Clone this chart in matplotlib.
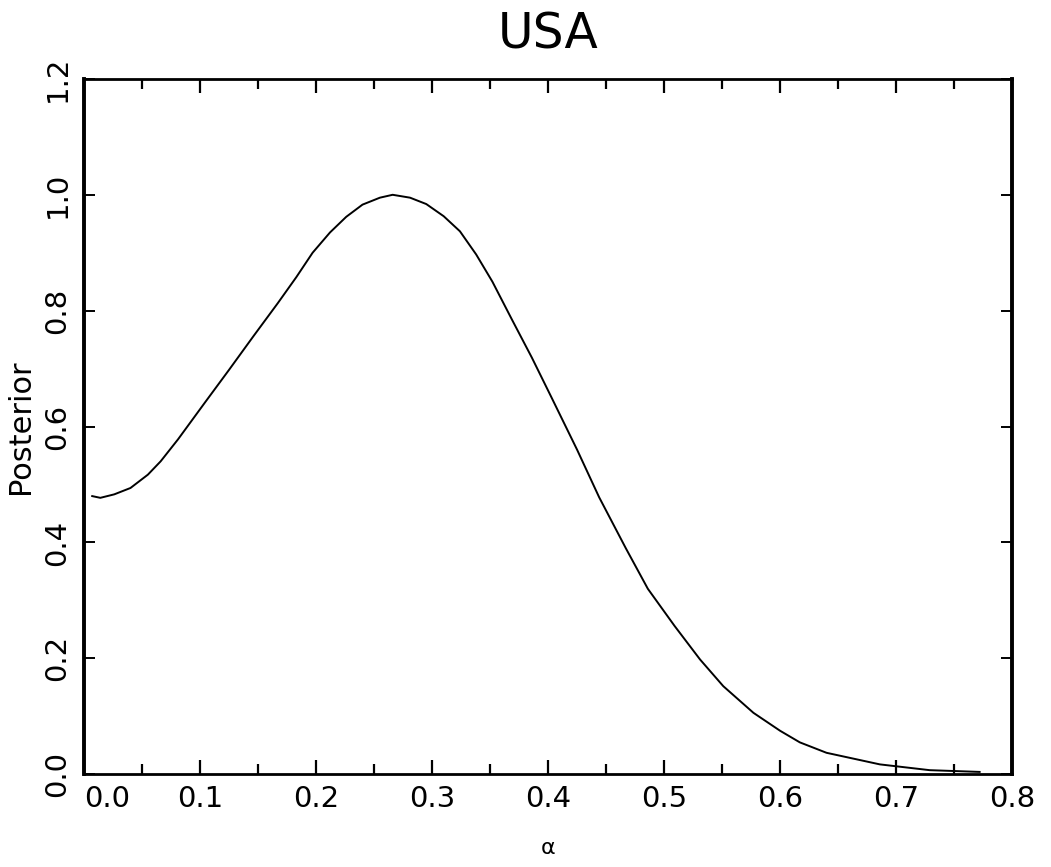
import matplotlib
matplotlib.use("Agg")
import matplotlib.pyplot as plt
from matplotlib.ticker import MultipleLocator

# values
alpha = [0.007, 0.014, 0.026, 0.040, 0.055, 0.066, 0.081, 0.104, 0.125, 0.146,
         0.167, 0.183, 0.197, 0.212, 0.226, 0.240, 0.255, 0.266, 0.281, 0.295,
         0.310, 0.324, 0.338, 0.352, 0.369, 0.386, 0.403, 0.425, 0.444, 0.467,
         0.486, 0.509, 0.531, 0.551, 0.577, 0.600, 0.617, 0.640, 0.686, 0.729,
         0.772]
posterior = [0.480, 0.477, 0.483, 0.494, 0.517, 0.540, 0.578, 0.641, 0.698, 0.756,
             0.813, 0.858, 0.900, 0.935, 0.962, 0.983, 0.995, 1.000, 0.995, 0.984,
             0.963, 0.937, 0.897, 0.850, 0.784, 0.719, 0.650, 0.560, 0.478, 0.390,
             0.320, 0.256, 0.198, 0.152, 0.106, 0.075, 0.055, 0.037, 0.017, 0.007,
             0.004]

x_ticks = [0.0, 0.1, 0.2, 0.3, 0.4, 0.5, 0.6, 0.7, 0.8]
y_ticks = [0.0, 0.2, 0.4, 0.6, 0.8, 1.0, 1.2]

plt.rcParams['font.family'] = ['DejaVu Sans']

fig = plt.figure(figsize=(10.51, 8.67), dpi=100)
ax = fig.add_axes([0.080, 0.107, 0.883, 0.802])

ax.plot(alpha, posterior, color='black', linewidth=1.4)

ax.set_xlim(0.0, 0.8)
ax.set_ylim(0.0, 1.2)
ax.set_xticks(x_ticks)
ax.set_xticklabels([f"{v:.1f}" for v in x_ticks])
ax.xaxis.set_minor_locator(MultipleLocator(0.05))
ax.set_yticks(y_ticks)
ax.set_yticklabels([f"{v:.1f}" for v in y_ticks])

ax.tick_params(axis='x', which='major', direction='in', top=True, bottom=True,
               length=10, width=1.6, labelsize=21, pad=8)
ax.tick_params(axis='x', which='minor', direction='in', top=True, bottom=True,
               length=7, width=1.6)
ax.tick_params(axis='y', which='major', direction='in', left=True, right=True,
               length=8, width=1.4, labelsize=21, pad=9, labelrotation=90)
for lab in ax.get_yticklabels():
    lab.set_verticalalignment('center')

# first x label sits to the right of the axis corner, as in the original
ax.get_xticklabels()[0].set_horizontalalignment('left')

for side in ['left', 'right']:
    ax.spines[side].set_linewidth(2.8)
for side in ['top', 'bottom']:
    ax.spines[side].set_linewidth(2.0)

ax.set_title('USA', fontsize=35, pad=22)
ax.set_ylabel('Posterior', fontsize=22, labelpad=6)
ax.set_xlabel('α', fontsize=16, labelpad=18)

fig.savefig('out.png', dpi=100)
